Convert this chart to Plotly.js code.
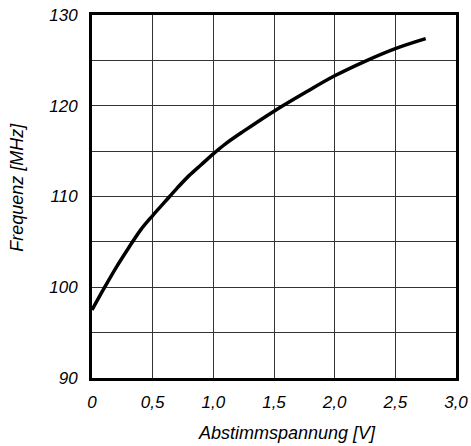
<!DOCTYPE html>
<html>
<head>
<meta charset="utf-8">
<script src="https://cdn.plot.ly/plotly-3.0.1.min.js"></script>
<style>
html,body{margin:0;padding:0;background:#fff;}
#chart{width:471px;height:446px;}
</style>
</head>
<body>
<div id="chart"></div>
<script>
const voltage = [0, 0.1, 0.2, 0.3, 0.4, 0.5, 0.6, 0.7, 0.8, 0.9, 1.0, 1.1, 1.25, 1.5, 1.75, 2.0, 2.25, 2.5, 2.75];
const frequency = [97.5, 99.9, 102.2, 104.3, 106.3, 107.9, 109.4, 110.9, 112.3, 113.5, 114.7, 115.8, 117.2, 119.4, 121.4, 123.3, 124.9, 126.3, 127.4];
const xTicks = [0, 0.5, 1.0, 1.5, 2.0, 2.5, 3.0];
const xTickText = ['0', '0,5', '1,0', '1,5', '2,0', '2,5', '3,0'];
const yTicks = [90, 100, 110, 120, 130];
const yTickText = ['90', '100', '110', '120', '130'];
const yMinorTicks = [95, 105, 115, 125];
const xTitle = 'Abstimmspannung [V]';
const yTitle = 'Frequenz [MHz]';

const tickFont = {family: 'Liberation Sans, Arial, sans-serif', size: 17, color: '#000', style: 'italic'};
const titleFont = {family: 'Liberation Sans, Arial, sans-serif', size: 18, color: '#000', style: 'italic'};
const ital = s => '<i>' + s + '</i>';

Plotly.newPlot('chart', [{
  x: voltage, y: frequency, type: 'scatter', mode: 'lines',
  line: {color: '#000', width: 3.5, shape: 'spline', smoothing: 1},
  hoverinfo: 'skip'
}], {
  width: 471, height: 446,
  margin: {l: 92, r: 15, t: 15, b: 68},
  paper_bgcolor: '#fff', plot_bgcolor: '#fff',
  showlegend: false,
  font: tickFont,
  xaxis: {
    range: [0, 3], tickvals: xTicks, ticktext: xTickText.map(ital),
    showgrid: true, gridcolor: '#333', gridwidth: 1,
    showline: true, linecolor: '#000', linewidth: 3, mirror: true,
    ticks: 'outside', ticklen: 7, tickcolor: 'rgba(0,0,0,0)',
    zeroline: false, tickfont: tickFont, fixedrange: true
  },
  yaxis: {
    range: [90, 130], tickvals: yTicks, ticktext: yTickText.map(ital),
    showgrid: true, gridcolor: '#333', gridwidth: 1,
    minor: {tickvals: yMinorTicks, showgrid: true, gridcolor: '#333', gridwidth: 1, ticks: ''},
    showline: true, linecolor: '#000', linewidth: 3, mirror: true,
    ticks: 'outside', ticklen: 8, tickcolor: 'rgba(0,0,0,0)',
    zeroline: false, tickfont: tickFont, fixedrange: true
  },
  annotations: [
    {text: xTitle, xref: 'paper', yref: 'paper', x: 0.535, y: -0.152, xanchor: 'center', yanchor: 'middle', showarrow: false, font: titleFont},
    {text: yTitle, xref: 'paper', yref: 'paper', x: -0.205, y: 0.525, xanchor: 'center', yanchor: 'middle', textangle: -90, showarrow: false, font: titleFont}
  ]
}, {staticPlot: true});
</script>
</body>
</html>
